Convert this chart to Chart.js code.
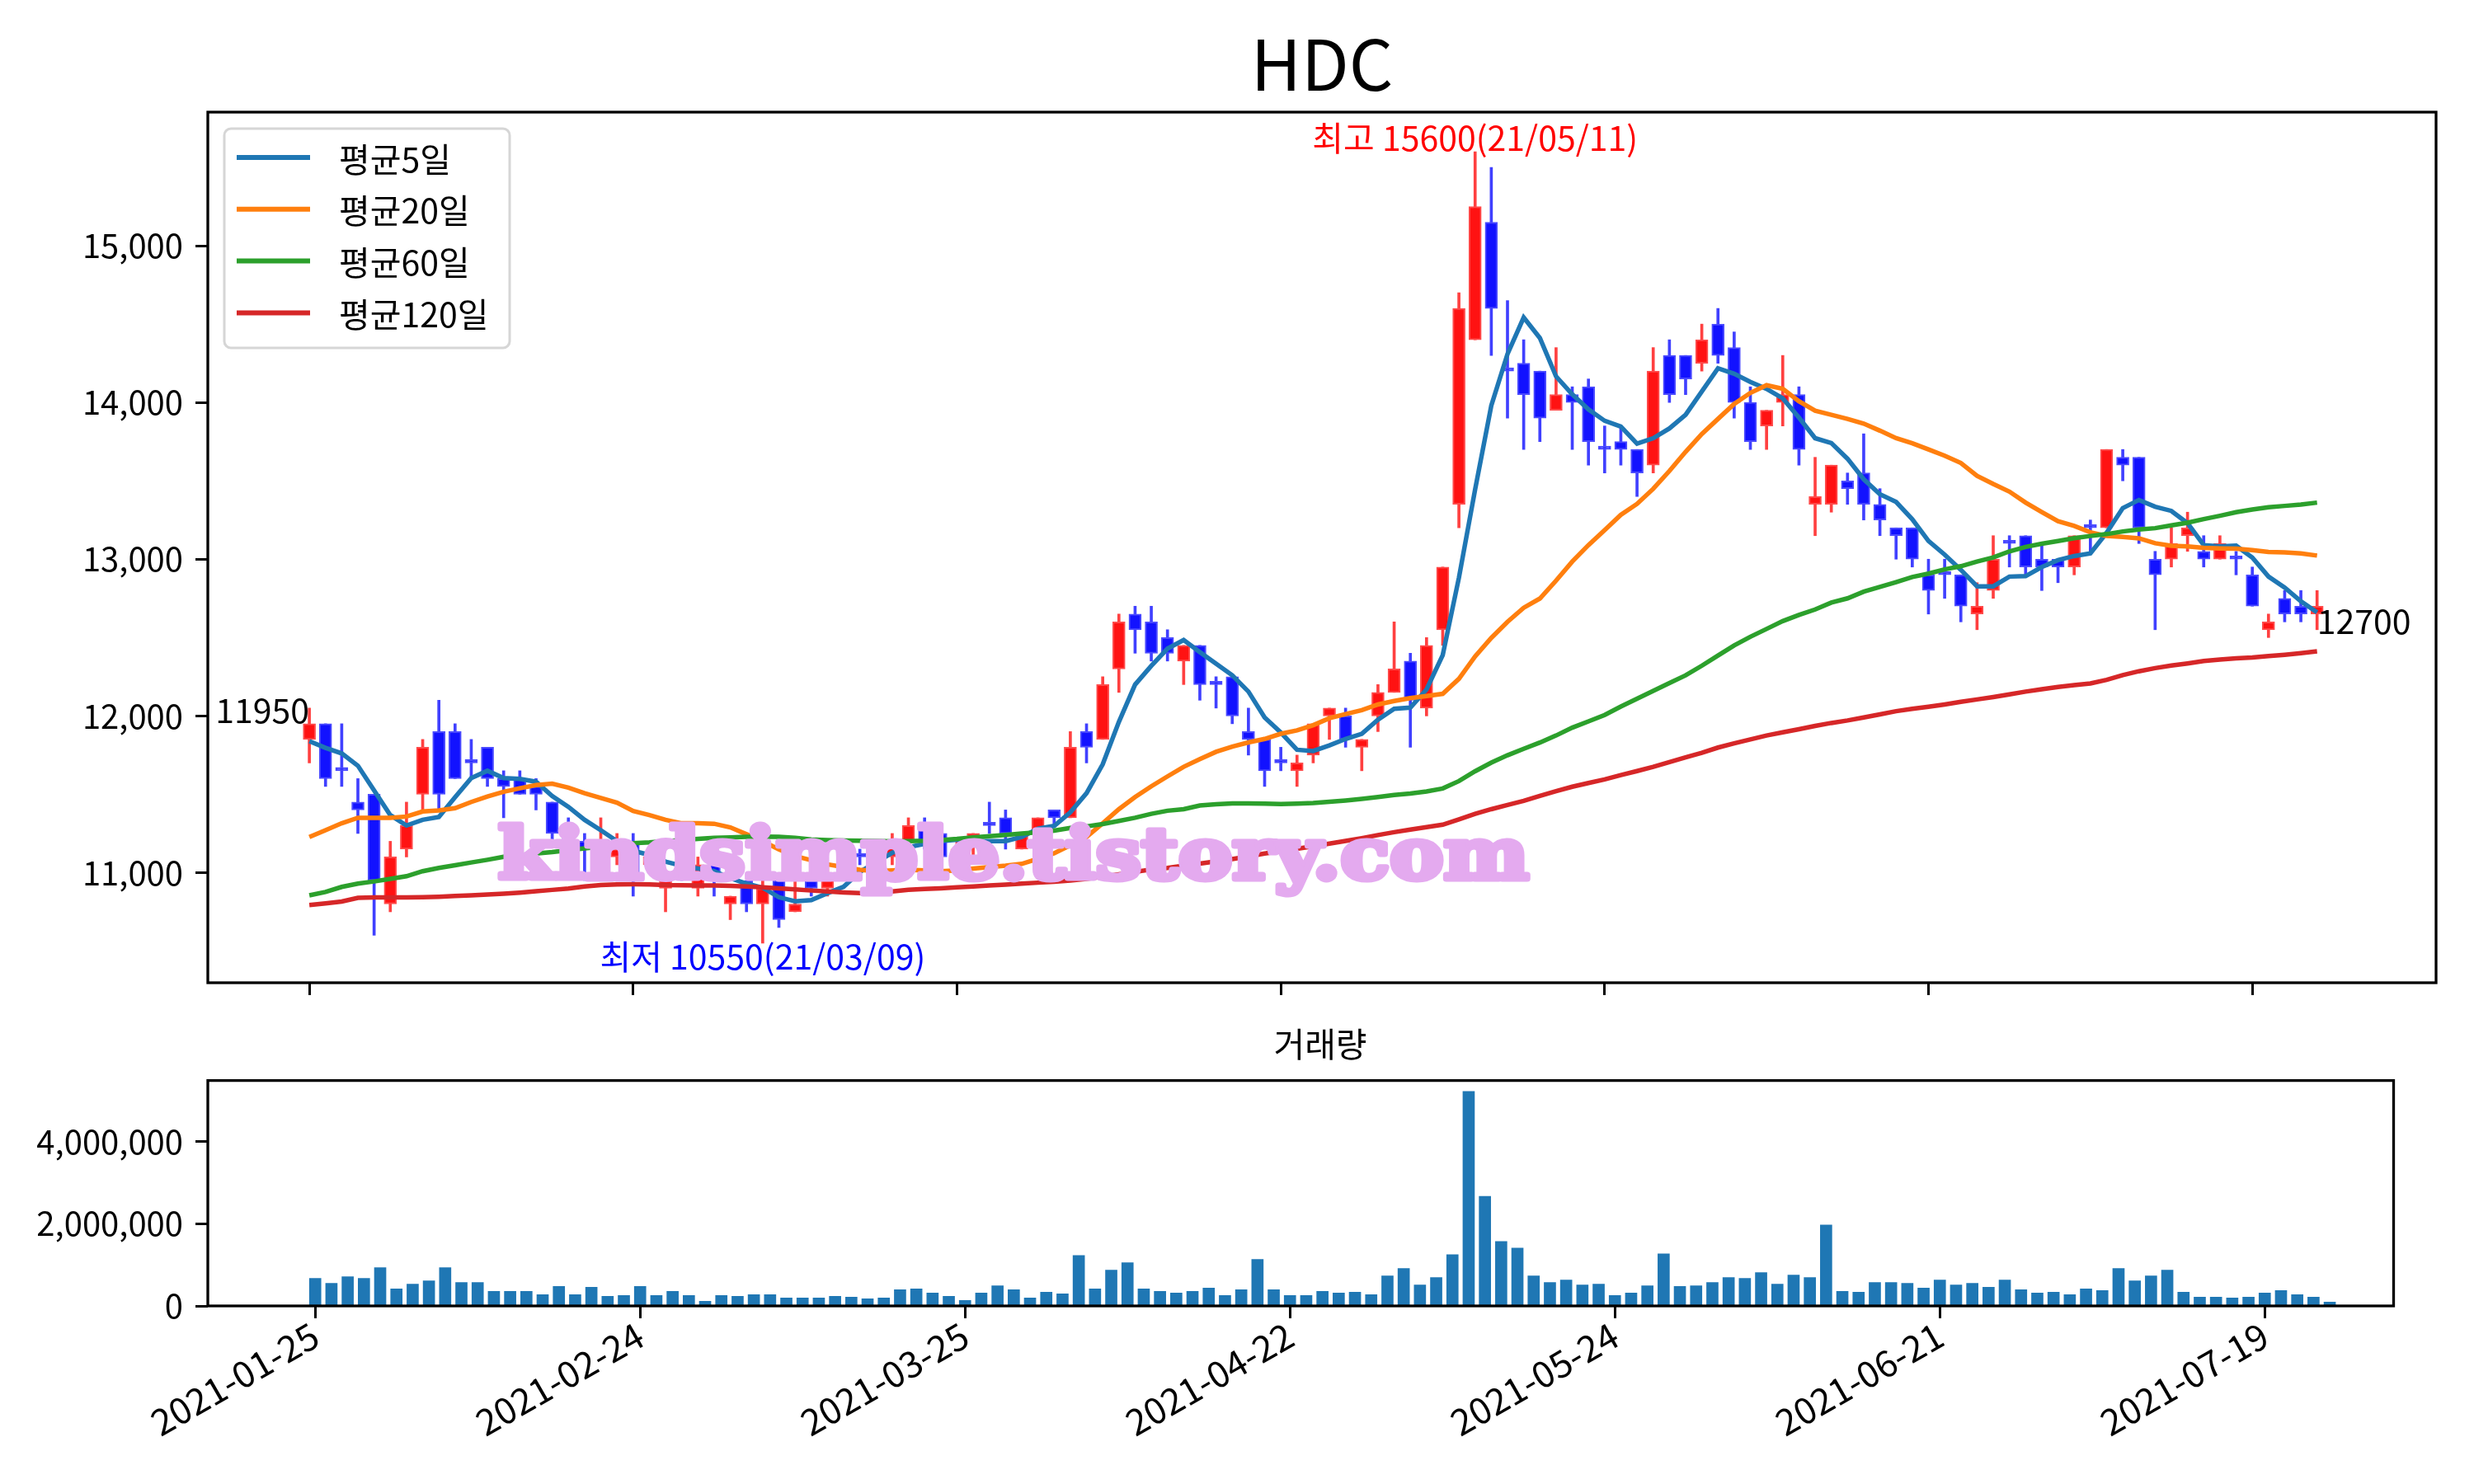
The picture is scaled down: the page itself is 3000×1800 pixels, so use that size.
<!DOCTYPE html>
<html>
<head>
<meta charset="utf-8">
<title>HDC</title>
<script src="https://cdn.jsdelivr.net/npm/chart.js@4.4.1/dist/chart.umd.min.js"></script>
<style>
  html, body { margin: 0; padding: 0; background: #fff; }
  #wrap { position: relative; width: 3000px; height: 1800px; background: #fff; }
  #priceChart { position: absolute; left: 0; top: 0; }
  #volChart { position: absolute; left: 0; top: 1240px; }
</style>
</head>
<body>
<div id="wrap">
  <canvas id="priceChart" width="3000" height="1240"></canvas>
  <canvas id="volChart" width="3000" height="560"></canvas>
</div>
<script>
const stockName = 'HDC';
const watermark = 'kindsimple.tistory.com';

const dates = [
  '2021-01-25','2021-01-26','2021-01-27','2021-01-28','2021-01-29','2021-02-01','2021-02-02','2021-02-03','2021-02-04','2021-02-05',
  '2021-02-08','2021-02-09','2021-02-10','2021-02-15','2021-02-16','2021-02-17','2021-02-18','2021-02-19','2021-02-22','2021-02-23',
  '2021-02-24','2021-02-25','2021-02-26','2021-03-02','2021-03-03','2021-03-04','2021-03-05','2021-03-08','2021-03-09','2021-03-10',
  '2021-03-11','2021-03-12','2021-03-15','2021-03-16','2021-03-17','2021-03-18','2021-03-19','2021-03-22','2021-03-23','2021-03-24',
  '2021-03-25','2021-03-26','2021-03-29','2021-03-30','2021-03-31','2021-04-01','2021-04-02','2021-04-05','2021-04-06','2021-04-07',
  '2021-04-08','2021-04-09','2021-04-12','2021-04-13','2021-04-14','2021-04-15','2021-04-16','2021-04-19','2021-04-20','2021-04-21',
  '2021-04-22','2021-04-23','2021-04-26','2021-04-27','2021-04-28','2021-04-29','2021-04-30','2021-05-03','2021-05-04','2021-05-06',
  '2021-05-07','2021-05-10','2021-05-11','2021-05-12','2021-05-13','2021-05-14','2021-05-17','2021-05-18','2021-05-20','2021-05-21',
  '2021-05-24','2021-05-25','2021-05-26','2021-05-27','2021-05-28','2021-05-31','2021-06-01','2021-06-02','2021-06-03','2021-06-04',
  '2021-06-07','2021-06-08','2021-06-09','2021-06-10','2021-06-11','2021-06-14','2021-06-15','2021-06-16','2021-06-17','2021-06-18',
  '2021-06-21','2021-06-22','2021-06-23','2021-06-24','2021-06-25','2021-06-28','2021-06-29','2021-06-30','2021-07-01','2021-07-02',
  '2021-07-05','2021-07-06','2021-07-07','2021-07-08','2021-07-09','2021-07-12','2021-07-13','2021-07-14','2021-07-15','2021-07-16',
  '2021-07-19','2021-07-20','2021-07-21','2021-07-22','2021-07-23'
];

const openPx = [
  11850,11950,11650,11450,11500,10800,11150,11500,11900,11900,
  11700,11800,11600,11600,11550,11450,11300,11200,11150,11100,
  11200,11050,10900,11100,10900,11050,10800,10950,10800,10950,
  10750,10950,10900,11000,11100,11150,11100,11200,11300,11250,
  11100,11200,11300,11350,11150,11250,11400,11350,11900,11850,
  12300,12650,12600,12500,12350,12450,12200,12250,11900,11850,
  11700,11650,11750,12000,12000,11800,12000,12150,12350,12050,
  12550,13350,14400,15150,14200,14250,14200,13950,14050,14100,
  13700,13750,13700,13600,14300,14300,14250,14500,14350,14000,
  13850,14000,14050,13350,13350,13500,13550,13350,13200,13200,
  12900,12900,12900,12650,12800,13100,13150,13000,13000,12950,
  13200,13200,13650,13650,13000,13000,13150,13050,13000,13000,
  12900,12550,12750,12700,12650
];
const highPx = [
  12050,11950,11950,11600,11500,11200,11450,11850,12100,11950,
  11850,11800,11650,11650,11600,11450,11350,11250,11350,11250,
  11250,11150,11000,11150,11100,11100,10850,10950,11000,11000,
  10950,11000,11050,11150,11150,11200,11250,11350,11350,11250,
  11200,11250,11450,11400,11250,11350,11400,11900,11950,12250,
  12650,12700,12700,12550,12450,12450,12250,12250,12050,11850,
  11800,11750,11950,12050,12050,11850,12200,12600,12400,12500,
  12950,14700,15600,15500,14650,14400,14200,14350,14100,14150,
  13850,13850,13700,14350,14400,14300,14500,14600,14450,14100,
  13950,14300,14100,13650,13600,13550,13800,13450,13200,13200,
  13000,13000,12900,12850,13150,13150,13150,13100,13000,13150,
  13250,13700,13700,13650,13050,13200,13300,13150,13150,13050,
  12950,12650,12800,12800,12800
];
const lowPx = [
  11700,11550,11550,11250,10600,10750,11100,11400,11400,11600,
  11600,11550,11350,11500,11400,11200,11150,10950,11100,11050,
  10850,11000,10750,10950,10850,10850,10700,10750,10550,10650,
  10750,10850,10850,10950,11050,11050,11050,11200,11150,11050,
  11100,11100,11250,11150,11150,11200,11300,11350,11700,11850,
  12150,12400,12350,12350,12200,12100,12050,11950,11750,11550,
  11650,11550,11700,11850,11800,11650,11900,12150,11800,12000,
  12450,13200,14400,14300,13900,13700,13750,13950,13700,13600,
  13550,13600,13400,13550,14000,14050,14200,14250,13900,13700,
  13700,13850,13600,13150,13300,13350,13250,13150,13000,12950,
  12650,12750,12600,12550,12750,12950,12900,12800,12850,12900,
  13050,13200,13500,13100,12550,12950,13050,12950,13000,12900,
  12700,12500,12600,12600,12550
];
const closePx = [
  11950,11600,11650,11400,10950,11100,11300,11800,11500,11600,
  11700,11600,11550,11500,11500,11250,11200,11150,11200,11150,
  10950,11100,10950,11000,11050,10950,10850,10800,10900,10700,
  10800,10900,11000,11100,11100,11100,11200,11300,11200,11100,
  11150,11250,11300,11250,11250,11350,11350,11800,11800,12200,
  12600,12550,12400,12400,12450,12200,12200,12000,11850,11650,
  11700,11700,11950,12050,11850,11850,12150,12300,12100,12450,
  12950,14600,15250,14600,14200,14050,13900,14050,14000,13750,
  13700,13700,13550,14200,14050,14150,14400,14300,14000,13750,
  13950,14050,13700,13400,13600,13450,13350,13250,13150,13000,
  12800,12900,12700,12700,13000,13100,12950,12950,12950,13150,
  13200,13700,13600,13200,12900,13100,13200,13000,13100,13000,
  12700,12600,12650,12650,12700
];
const volume = [
  671000,551000,711000,671000,930000,412000,531000,611000,930000,571000,
  571000,352000,352000,352000,272000,472000,272000,452000,232000,252000,
  472000,252000,352000,252000,113000,252000,232000,272000,272000,193000,
  193000,193000,232000,213000,173000,193000,392000,412000,312000,232000,
  133000,312000,491000,392000,193000,332000,292000,1228000,412000,870000,
  1049000,412000,352000,312000,352000,432000,252000,392000,1129000,392000,
  252000,252000,352000,312000,332000,272000,731000,910000,511000,691000,
  1248000,5213000,2663000,1567000,1408000,731000,571000,631000,511000,531000,
  252000,312000,491000,1268000,472000,491000,571000,691000,671000,810000,
  531000,750000,691000,1966000,352000,332000,571000,571000,551000,432000,
  631000,511000,551000,452000,631000,392000,312000,332000,272000,412000,
  372000,910000,611000,731000,870000,332000,213000,213000,193000,213000,
  312000,372000,272000,213000,93000
];

const ma5 = [
  11839,11796,11761,11682,11524,11367,11301,11337,11355,11481,
  11603,11650,11603,11598,11580,11489,11420,11337,11271,11201,
  11140,11113,11070,11044,11026,11010,10965,10930,10904,10843,
  10817,10825,10869,10910,11005,11065,11127,11162,11184,11201,
  11210,11201,11201,11201,11228,11280,11298,11385,11507,11691,
  11962,12200,12319,12429,12484,12407,12333,12259,12155,11990,
  11894,11784,11776,11812,11853,11886,11976,12045,12053,12169,
  12388,12882,13445,13980,14309,14542,14411,14166,14052,13956,
  13883,13846,13737,13772,13834,13921,14070,14218,14183,14131,
  14087,14026,13903,13772,13741,13641,13510,13414,13365,13255,
  13116,13029,12932,12827,12827,12889,12892,12950,12994,13020,
  13037,13168,13326,13378,13335,13308,13230,13090,13081,13086,
  13011,12889,12819,12731,12661
];
const ma20 = [
  11227,11271,11315,11350,11350,11350,11358,11390,11397,11411,
  11451,11486,11516,11538,11559,11568,11542,11507,11477,11446,
  11393,11367,11337,11315,11315,11312,11289,11245,11201,11149,
  11105,11079,11053,11035,11018,11009,11014,11018,11014,11009,
  11014,11026,11035,11044,11056,11088,11123,11175,11228,11315,
  11405,11482,11551,11614,11675,11724,11771,11804,11831,11853,
  11886,11908,11941,11985,12012,12037,12073,12095,12114,12127,
  12141,12237,12380,12498,12600,12690,12749,12863,12985,13090,
  13186,13283,13353,13449,13563,13685,13799,13895,13991,14061,
  14110,14087,14008,13947,13921,13895,13865,13820,13772,13740,
  13700,13660,13614,13532,13480,13431,13361,13300,13242,13212,
  13172,13148,13142,13133,13102,13086,13081,13072,13069,13067,
  13058,13046,13043,13037,13023
];
const ma60 = [
  10855,10877,10909,10930,10944,10960,10977,11009,11030,11047,
  11065,11082,11101,11112,11122,11131,11143,11155,11166,11183,
  11188,11193,11201,11208,11215,11222,11225,11228,11230,11228,
  11222,11212,11208,11205,11204,11202,11200,11201,11203,11208,
  11215,11225,11232,11240,11250,11258,11268,11285,11295,11310,
  11330,11350,11375,11395,11405,11428,11436,11441,11441,11440,
  11438,11440,11444,11452,11460,11470,11482,11495,11505,11518,
  11537,11584,11647,11702,11749,11790,11830,11875,11925,11965,
  12006,12060,12110,12160,12210,12259,12320,12385,12450,12505,
  12555,12605,12644,12679,12723,12750,12793,12823,12854,12886,
  12908,12935,12955,12985,13011,13050,13078,13099,13116,13134,
  13148,13160,13177,13189,13198,13216,13233,13256,13277,13300,
  13317,13331,13340,13349,13361
];
const ma120 = [
  10793,10804,10816,10839,10842,10842,10842,10843,10846,10851,
  10855,10860,10865,10872,10881,10890,10898,10912,10921,10925,
  10926,10925,10921,10920,10918,10918,10916,10912,10906,10900,
  10893,10886,10880,10874,10870,10872,10880,10890,10896,10900,
  10906,10912,10918,10924,10930,10936,10942,10950,10960,10974,
  10990,11005,11020,11030,11044,11058,11072,11087,11104,11122,
  11137,11152,11168,11185,11202,11220,11240,11258,11275,11290,
  11306,11340,11375,11405,11432,11458,11490,11520,11548,11572,
  11595,11622,11648,11675,11705,11735,11765,11798,11825,11850,
  11875,11895,11915,11936,11955,11971,11990,12010,12030,12045,
  12058,12073,12090,12105,12120,12137,12155,12170,12185,12196,
  12207,12230,12260,12285,12305,12321,12335,12350,12360,12367,
  12373,12382,12390,12400,12412
];

const maLabels = ['평균5일', '평균20일', '평균60일', '평균120일'];
const maColors = ['#1f77b4', '#ff7f0e', '#2ca02c', '#d62728'];
const priceTicks = [11000, 12000, 13000, 14000, 15000];
const volumeTicks = [0, 2000000, 4000000];
const dateTickIdx = [0, 20, 40, 60, 80, 100, 120];

const FONT = '"Noto Sans CJK KR", "Noto Sans", sans-serif';
Chart.defaults.font.family = FONT;
Chart.defaults.font.size = 40;
Chart.defaults.color = '#000';

const isUp = closePx.map((c, i) => c > openPx[i]);
const bodyFill = isUp.map(u => u ? '#ff1212' : '#1212ff');
const bodyEdge = isUp.map(u => u ? '#ff4a4a' : '#4a4aff');
const wickColor = isUp.map(u => u ? '#ff4040' : '#4040ff');

const tickGrid = { display: true, drawOnChartArea: false, drawTicks: true, tickLength: 15, tickWidth: 3, tickColor: '#000', offset: false };
const fixedTicks = (vals) => (scale) => { scale.ticks = vals.map(v => ({ value: v })); };
const shortDate = (d) => d.slice(2).replace(/-/g, '/');

function drawFrame(chart) {
  const { ctx, chartArea: a } = chart;
  ctx.save();
  ctx.strokeStyle = '#000';
  ctx.lineWidth = 3.3;
  ctx.strokeRect(a.left, a.top, a.right - a.left, a.bottom - a.top);
  ctx.restore();
}

const priceDecor = {
  id: 'priceDecor',
  afterDatasetsDraw(chart) {
    const { ctx, scales: { x, y } } = chart;
    // watermark sits above candles and lines
    ctx.save();
    ctx.font = 'bold 86px "DejaVu Serif"';
    const w = ctx.measureText(watermark).width;
    ctx.translate(1229, 1066);
    ctx.scale(1250 / w, 1);
    ctx.fillStyle = '#e4aaef';
    ctx.strokeStyle = '#e4aaef';
    ctx.lineWidth = 7;
    ctx.lineJoin = 'round';
    ctx.textAlign = 'center';
    ctx.textBaseline = 'alphabetic';
    ctx.strokeText(watermark, 0, 0);
    ctx.fillText(watermark, 0, 0);
    ctx.restore();

    // high / low / first / last labels
    let hiIdx = 0, loIdx = 0;
    highPx.forEach((v, i) => { if (v > highPx[hiIdx]) hiIdx = i; });
    lowPx.forEach((v, i) => { if (v < lowPx[loIdx]) loIdx = i; });
    const last = closePx.length - 1;
    ctx.save();
    ctx.font = '41px ' + FONT;
    ctx.textAlign = 'center';
    ctx.textBaseline = 'bottom';
    ctx.fillStyle = '#ff0000';
    ctx.fillText('최고 ' + highPx[hiIdx] + '(' + shortDate(dates[hiIdx]) + ')', x.getPixelForValue(hiIdx), y.getPixelForValue(highPx[hiIdx]) + 4);
    ctx.textBaseline = 'top';
    ctx.fillStyle = '#0000ff';
    ctx.fillText('최저 ' + lowPx[loIdx] + '(' + shortDate(dates[loIdx]) + ')', x.getPixelForValue(loIdx), y.getPixelForValue(lowPx[loIdx]) - 4);
    ctx.fillStyle = '#000';
    ctx.textAlign = 'right';
    ctx.textBaseline = 'bottom';
    ctx.fillText(String(closePx[0]), x.getPixelForValue(0), y.getPixelForValue(closePx[0]) + 4);
    ctx.textAlign = 'left';
    ctx.textBaseline = 'top';
    ctx.fillText(String(closePx[last]), x.getPixelForValue(last), y.getPixelForValue(closePx[last]) - 2);
    ctx.restore();
  },
  afterDraw(chart) {
    const { ctx, chartArea: a } = chart;
    drawFrame(chart);
    // title
    ctx.save();
    ctx.font = '84px ' + FONT;
    ctx.fillStyle = '#000';
    ctx.textAlign = 'center';
    ctx.textBaseline = 'alphabetic';
    ctx.fillText(stockName, (a.left + a.right) / 2, 110);
    ctx.restore();
    // legend box
    ctx.save();
    const bx = 272, by = 156, bw = 346, bh = 266, r = 8;
    ctx.beginPath();
    ctx.moveTo(bx + r, by);
    ctx.arcTo(bx + bw, by, bx + bw, by + bh, r);
    ctx.arcTo(bx + bw, by + bh, bx, by + bh, r);
    ctx.arcTo(bx, by + bh, bx, by, r);
    ctx.arcTo(bx, by, bx + bw, by, r);
    ctx.closePath();
    ctx.fillStyle = 'rgba(255,255,255,0.8)';
    ctx.fill();
    ctx.strokeStyle = '#d6d6d6';
    ctx.lineWidth = 3;
    ctx.stroke();
    ctx.font = '41px ' + FONT;
    ctx.textAlign = 'left';
    ctx.textBaseline = 'middle';
    maLabels.forEach((lab, i) => {
      const ry = 191 + i * 62.8;
      ctx.strokeStyle = maColors[i];
      ctx.lineWidth = 6;
      ctx.beginPath();
      ctx.moveTo(287, ry);
      ctx.lineTo(376, ry);
      ctx.stroke();
      ctx.fillStyle = '#000';
      ctx.fillText(lab, 411, ry + 2);
    });
    ctx.restore();
  }
};

const volDecor = {
  id: 'volDecor',
  afterDraw(chart) {
    const { ctx } = chart;
    drawFrame(chart);
    ctx.save();
    ctx.font = '41px ' + FONT;
    ctx.fillStyle = '#000';
    ctx.textAlign = 'center';
    ctx.textBaseline = 'middle';
    ctx.fillText('거래량', 1601, 26);
    ctx.restore();
  }
};

const idx = dates.map((_, i) => i);

const maDatasets = [ma5, ma20, ma60, ma120].map((arr, k) => ({
  type: 'line',
  label: maLabels[k],
  data: arr.map((v, i) => ({ x: i, y: v })),
  borderColor: maColors[k],
  borderWidth: 5.5,
  pointRadius: 0,
  tension: 0,
  fill: false,
  order: 3 - k
}));

new Chart(document.getElementById('priceChart'), {
  type: 'bar',
  data: {
    datasets: [
      ...maDatasets,
      {
        label: 'body',
        data: idx.map(i => ({ x: i, y: [openPx[i], closePx[i]] })),
        backgroundColor: bodyFill,
        borderColor: bodyEdge,
        borderWidth: 2,
        borderSkipped: false,
        barThickness: 15,
        minBarLength: 4,
        grouped: false,
        order: 5
      },
      {
        label: 'wick',
        data: idx.map(i => ({ x: i, y: [lowPx[i], highPx[i]] })),
        backgroundColor: wickColor,
        borderWidth: 0,
        barThickness: 3,
        grouped: false,
        order: 6
      }
    ]
  },
  options: {
    responsive: false,
    animation: false,
    devicePixelRatio: 1,
    layout: { padding: { left: 12, right: 46, top: 136, bottom: 28 } },
    plugins: { legend: { display: false }, tooltip: { enabled: false }, title: { display: false } },
    scales: {
      x: {
        type: 'linear',
        min: -6.27,
        max: 131.35,
        offset: false,
        grid: tickGrid,
        border: { display: false },
        afterBuildTicks: fixedTicks(dateTickIdx),
        afterFit: (s) => { s.height = 20; },
        ticks: { autoSkip: false, maxRotation: 0, callback: () => '' }
      },
      y: {
        type: 'linear',
        min: 10297.5,
        max: 15852.5,
        grid: tickGrid,
        border: { display: false },
        afterBuildTicks: fixedTicks(priceTicks),
        afterFit: (s) => { s.width = 240; },
        ticks: { padding: 15, font: { size: 40 }, callback: (v) => Number(v).toLocaleString('en-US') }
      }
    }
  },
  plugins: [priceDecor]
});

new Chart(document.getElementById('volChart'), {
  type: 'bar',
  data: {
    datasets: [{
      label: '거래량',
      data: idx.map(i => ({ x: i, y: volume[i] })),
      backgroundColor: '#1f77b4',
      borderWidth: 0,
      barThickness: 14
    }]
  },
  options: {
    responsive: false,
    animation: false,
    devicePixelRatio: 1,
    layout: { padding: { left: 12, right: 97.5, top: 70.6, bottom: 16 } },
    plugins: { legend: { display: false }, tooltip: { enabled: false }, title: { display: false } },
    scales: {
      x: {
        type: 'linear',
        min: -6.61,
        max: 127.93,
        offset: false,
        grid: tickGrid,
        border: { display: false },
        afterBuildTicks: fixedTicks(dateTickIdx),
        afterFit: (s) => { s.height = 200; },
        ticks: {
          autoSkip: false, minRotation: 30, maxRotation: 30, padding: -6,
          font: { size: 44 },
          callback: (v) => dates[v] || ''
        }
      },
      y: {
        type: 'linear',
        min: 0,
        max: 5480000,
        grid: tickGrid,
        border: { display: false },
        afterBuildTicks: fixedTicks(volumeTicks),
        afterFit: (s) => { s.width = 240; },
        ticks: { padding: 15, font: { size: 40 }, callback: (v) => Number(v).toLocaleString('en-US') }
      }
    }
  },
  plugins: [volDecor]
});
</script>
</body>
</html>
